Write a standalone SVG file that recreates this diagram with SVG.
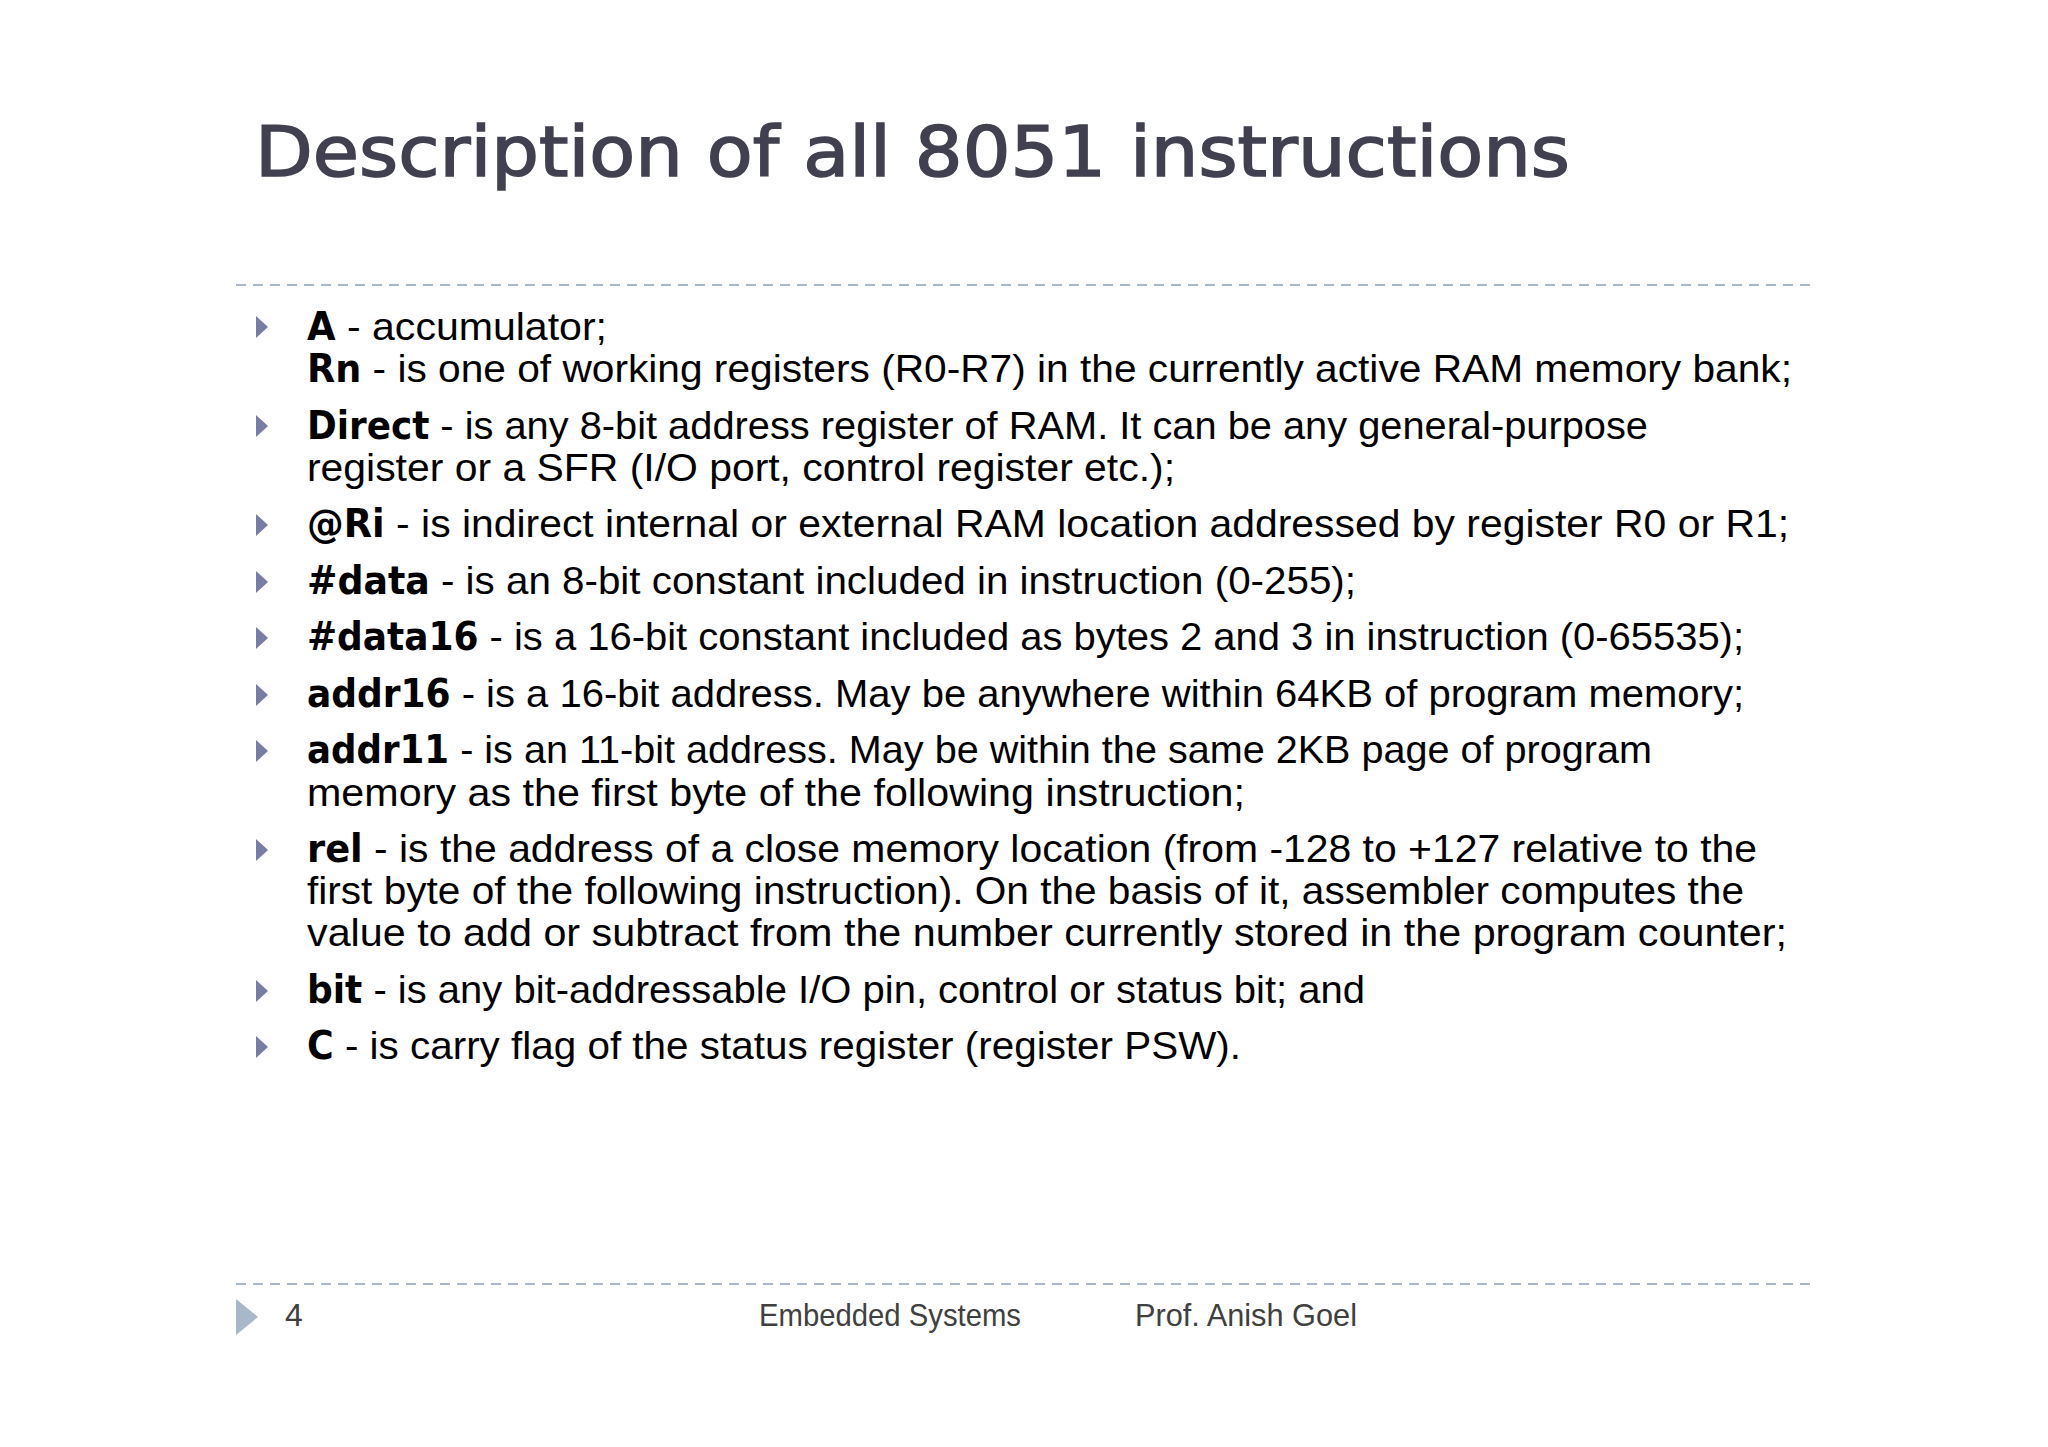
<svg xmlns="http://www.w3.org/2000/svg" width="2048" height="1447" viewBox="0 0 2048 1447">
<style>
.t{font-family:"Liberation Sans Narrow","Liberation Sans",sans-serif;font-size:39px;fill:#000}
.b{font-weight:bold;font-family:"DejaVu Sans Condensed","DejaVu Sans",sans-serif}
.ti{font-family:"DejaVu Sans",sans-serif;font-size:70px;fill:#404050;stroke:#404050;stroke-width:1.6}
.f{font-family:"Liberation Sans Narrow","Liberation Sans",sans-serif;font-size:32px;fill:#404040}
.d{stroke:#a9b8c8;stroke-width:2;stroke-dasharray:10 7}
.bu{fill:#777ca6}
</style>
<defs><path id="bl" d="M-1,-11 L11,0 L-1,11 Z"/></defs>
<rect width="2048" height="1447" fill="#fff"/>
<g id="title"><text class="ti" x="255" y="176" textLength="1315" lengthAdjust="spacingAndGlyphs">Description of all 8051 instructions</text></g>
<g id="rules"><line class="d" x1="236" y1="285" x2="1812" y2="285"/><line class="d" x1="236" y1="1284" x2="1812" y2="1284"/></g>
<g id="bullets" class="bu">
<use href="#bl" x="257" y="327"/><use href="#bl" x="257" y="426"/><use href="#bl" x="257" y="525"/><use href="#bl" x="257" y="582"/><use href="#bl" x="257" y="638"/><use href="#bl" x="257" y="695"/><use href="#bl" x="257" y="751"/><use href="#bl" x="257" y="850"/><use href="#bl" x="257" y="991"/><use href="#bl" x="257" y="1047"/>
</g>
<g id="body" class="t">
<text x="307" y="340" textLength="300" lengthAdjust="spacingAndGlyphs"><tspan class="b">A</tspan> - accumulator;</text>
<text x="307" y="382" textLength="1485" lengthAdjust="spacingAndGlyphs"><tspan class="b">Rn</tspan> - is one of working registers (R0-R7) in the currently active RAM memory bank;</text>
<text x="307" y="439" textLength="1341" lengthAdjust="spacingAndGlyphs"><tspan class="b">Direct</tspan> - is any 8-bit address register of RAM. It can be any general-purpose</text>
<text x="307" y="481" textLength="868" lengthAdjust="spacingAndGlyphs">register or a SFR (I/O port, control register etc.);</text>
<text x="307" y="537" textLength="1482" lengthAdjust="spacingAndGlyphs"><tspan class="b">@Ri</tspan> - is indirect internal or external RAM location addressed by register R0 or R1;</text>
<text x="307" y="594" textLength="1049" lengthAdjust="spacingAndGlyphs"><tspan class="b">#data</tspan> - is an 8-bit constant included in instruction (0-255);</text>
<text x="307" y="650" textLength="1437" lengthAdjust="spacingAndGlyphs"><tspan class="b">#data16</tspan> - is a 16-bit constant included as bytes 2 and 3 in instruction (0-65535);</text>
<text x="307" y="707" textLength="1437" lengthAdjust="spacingAndGlyphs"><tspan class="b">addr16</tspan> - is a 16-bit address. May be anywhere within 64KB of program memory;</text>
<text x="307" y="763" textLength="1345" lengthAdjust="spacingAndGlyphs"><tspan class="b">addr11</tspan> - is an 11-bit address. May be within the same 2KB page of program</text>
<text x="307" y="806" textLength="938" lengthAdjust="spacingAndGlyphs">memory as the first byte of the following instruction;</text>
<text x="307" y="862" textLength="1450" lengthAdjust="spacingAndGlyphs"><tspan class="b">rel</tspan> - is the address of a close memory location (from -128 to +127 relative to the</text>
<text x="307" y="904" textLength="1437" lengthAdjust="spacingAndGlyphs">first byte of the following instruction). On the basis of it, assembler computes the</text>
<text x="307" y="946" textLength="1480" lengthAdjust="spacingAndGlyphs">value to add or subtract from the number currently stored in the program counter;</text>
<text x="307" y="1003" textLength="1058" lengthAdjust="spacingAndGlyphs"><tspan class="b">bit</tspan> - is any bit-addressable I/O pin, control or status bit; and</text>
<text x="307" y="1059" textLength="934" lengthAdjust="spacingAndGlyphs"><tspan class="b">C</tspan> - is carry flag of the status register (register PSW).</text>
</g>
<g id="footer">
<path d="M236,1299 L258,1317 L236,1335 Z" fill="#a9b8c8"/>
<text class="f" x="285" y="1326">4</text>
<text class="f" x="759" y="1326" textLength="262" lengthAdjust="spacingAndGlyphs">Embedded Systems</text>
<text class="f" x="1135" y="1326" textLength="222" lengthAdjust="spacingAndGlyphs">Prof. Anish Goel</text>
</g>
</svg>
